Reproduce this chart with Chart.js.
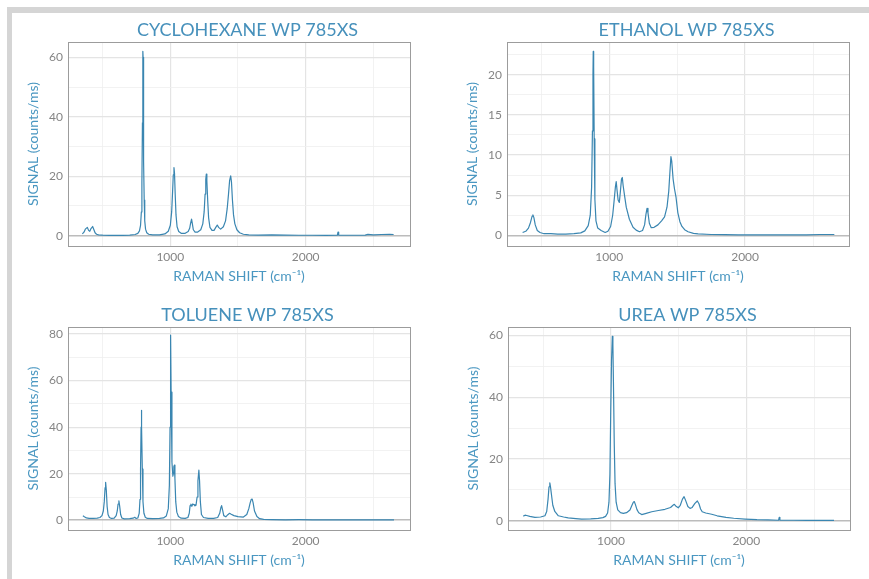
<!DOCTYPE html>
<html>
<head>
<meta charset="utf-8">
<title>Raman spectra WP 785XS</title>
<script src="https://cdn.jsdelivr.net/npm/chart.js@4.4.1/dist/chart.umd.min.js"></script>
<style>
  html, body { margin: 0; padding: 0; background: #fff; overflow: hidden; }
  body { width: 869px; height: 579px; position: relative; }
  .frame-top { position: absolute; left: 7px; top: 7px; width: 862px; height: 6px; background: #d5d5d5; }
  .frame-left { position: absolute; left: 7px; top: 7px; width: 5px; height: 572px; background: #d5d5d5; }
  .panel { position: absolute; width: 467px; }
  #p1 { left: 14px; top: 14px; height: 276px; }
  #p2 { left: 453px; top: 14px; height: 276px; }
  #p3 { left: 14px; top: 299px; height: 275px; }
  #p4 { left: 454px; top: 299px; height: 275px; }
</style>
</head>
<body>
<div class="frame-top"></div>
<div class="frame-left"></div>
<div class="panel" id="p1"><canvas id="cycloChart"></canvas></div>
<div class="panel" id="p2"><canvas id="ethanolChart"></canvas></div>
<div class="panel" id="p3"><canvas id="tolueneChart"></canvas></div>
<div class="panel" id="p4"><canvas id="ureaChart"></canvas></div>

<script>
// Spectra (Raman shift in cm-1, signal in counts/ms)

const cycloX = [350, 362, 372, 387, 396, 405, 414, 426, 434, 444, 455, 470, 500, 550, 600, 650, 700, 740, 760,
  772, 780, 786, 790, 794, 797, 799, 801, 804, 807, 811, 817, 826, 840, 870, 920, 960, 985, 1000, 1010, 1017,
  1022, 1027, 1031, 1036, 1042, 1050, 1062, 1080, 1110, 1132, 1143, 1150, 1157, 1163, 1170, 1183, 1200, 1225,
  1240, 1250, 1257, 1262, 1266, 1270, 1276, 1283, 1293, 1308, 1323, 1336, 1347, 1357, 1372, 1392, 1408, 1420,
  1430, 1438, 1446, 1452, 1459, 1467, 1477, 1492, 1512, 1540, 1580, 1650, 1750, 1850, 1950, 2050, 2150, 2234,
  2239, 2244, 2350, 2440, 2460, 2500, 2560, 2620, 2650];
const cycloY = [0.6, 1.2, 2.2, 2.8, 1.8, 1.5, 2.4, 3.1, 2.2, 1.0, 0.5, 0.3, 0.2, 0.1, 0.15, 0.1, 0.2, 0.4, 0.8,
  1.6, 3.5, 8, 18, 38, 62, 60, 45, 25, 12, 5, 2.2, 1.0, 0.5, 0.3, 0.3, 0.6, 1.5, 3.5, 8, 15,
  20.5, 22.9, 21, 14, 7, 3, 1.4, 0.8, 0.8, 1.4, 2.5, 4.2, 5.6, 4.0, 2.0, 1.2, 1.2, 2.0,
  4, 8, 14, 19, 20.7, 18.5, 12, 6, 2.8, 1.8, 1.8, 2.8, 3.6, 2.8, 2.2, 3.0, 5, 9,
  14, 18.5, 20.1, 18, 12, 7, 4, 2.0, 1.0, 0.5, 0.3, 0.2, 0.3, 0.2, 0.15, 0.15, 0.1, 0.15,
  1.2, 0.2, 0.15, 0.2, 0.45, 0.3, 0.4, 0.45, 0.4];

const ethanolX = [362, 385, 405, 420, 432, 438, 445, 455, 470, 490, 520, 570, 620, 680, 740, 790, 820, 845, 860,
  870, 876, 880, 882, 885, 889, 894, 902, 915, 940, 970, 990, 1010, 1025, 1035, 1045, 1051, 1058, 1065, 1074,
  1082, 1090, 1096, 1102, 1112, 1125, 1148, 1175, 1198, 1222, 1245, 1260, 1270, 1278, 1285, 1295, 1309, 1330,
  1358, 1385, 1407, 1425, 1438, 1447, 1454, 1460, 1470, 1480, 1491, 1505, 1520, 1535, 1555, 1580, 1620, 1654,
  1750, 1850, 1950, 2050, 2150, 2250, 2350, 2450, 2550, 2657];
const ethanolY = [0.35, 0.5, 0.9, 1.6, 2.4, 2.55, 2.2, 1.3, 0.6, 0.35, 0.2, 0.2, 0.15, 0.15, 0.2, 0.3, 0.55, 1.2, 2.5,
  6, 13, 20, 22.9, 21, 12, 4.5, 1.8, 0.9, 0.6, 0.35, 0.5, 1.1, 2.5, 4.2, 6.0, 6.7, 5.5, 4.4, 4.1,
  5.5, 7.0, 7.2, 6.2, 5.0, 3.5, 2.0, 1.0, 0.65, 0.45, 0.6, 1.3, 2.6, 3.35, 2.8, 1.5, 0.95, 1.0,
  1.3, 1.8, 2.3, 3.5, 5.5, 8.0, 9.8, 9.2, 7.0, 5.8, 4.8, 2.8, 1.7, 1.1, 0.7, 0.45, 0.25, 0.17,
  0.1, 0.08, 0.05, 0.05, 0.05, 0.05, 0.05, 0.05, 0.1, 0.1];

const tolueneX = [354, 365, 380, 400, 430, 460, 480, 495, 505, 512, 518, 522, 527, 533, 540, 550, 565, 585, 600,
  608, 614, 620, 626, 633, 642, 660, 700, 725, 737, 748, 760, 770, 776, 780, 784, 786, 789, 793, 798, 805, 815,
  830, 870, 920, 950, 970, 985, 993, 998, 1002, 1006, 1012, 1019, 1022, 1026, 1030, 1034, 1040, 1048, 1060,
  1080, 1110, 1130, 1140, 1146, 1152, 1159, 1166, 1175, 1182, 1190, 1198, 1204, 1211, 1216, 1222, 1230, 1245,
  1280, 1320, 1350, 1365, 1374, 1379, 1386, 1395, 1410, 1425, 1438, 1450, 1470, 1500, 1540, 1565, 1580, 1590,
  1598, 1605, 1612, 1622, 1640, 1660, 1690, 1750, 1850, 1950, 2050, 2150, 2250, 2350, 2450, 2550, 2653];
const tolueneY = [1.9, 1.5, 1.0, 0.8, 0.8, 0.9, 1.2, 2.0, 4, 8, 14, 16.3, 13, 6, 2.5, 1.2, 0.8, 0.9, 2.0,
  4, 7, 8.4, 6, 2.5, 1.0, 0.6, 0.7, 0.9, 1.3, 0.8, 1.0, 3, 9, 22, 40, 47.2, 40, 22, 8, 3, 1.3,
  0.8, 0.7, 0.8, 1.0, 1.8, 5, 15, 40, 79.5, 55, 25, 18.9, 20, 23, 23.7, 18, 8, 3.5, 1.6,
  0.9, 0.8, 1.2, 3.0, 6.3, 6.9, 6.0, 7.0, 6.7, 6.2, 6.5, 10, 17, 21.5, 17, 8, 2.5, 1.2,
  0.8, 0.8, 1.2, 3, 5.5, 6.3, 4.5, 2.0, 1.5, 2.4, 3.0, 2.6, 2.0, 1.6, 1.4, 2.5, 5, 7.5,
  9.0, 9.1, 7.5, 4, 1.6, 0.7, 0.4, 0.3, 0.2, 0.25, 0.2, 0.2, 0.2, 0.15, 0.2, 0.2, 0.15];

const ureaX = [352, 365, 377, 400, 438, 480, 512, 525, 535, 542, 548, 553, 560, 570, 585, 611, 650, 684, 740,
  783, 850, 906, 940, 960, 975, 985, 992, 998, 1004, 1010, 1014, 1018, 1024, 1030, 1038, 1050, 1070, 1091,
  1115, 1140, 1155, 1165, 1172, 1180, 1192, 1205, 1227, 1260, 1301, 1350, 1399, 1440, 1458, 1468, 1478, 1497,
  1512, 1528, 1540, 1552, 1568, 1584, 1600, 1620, 1638, 1650, 1662, 1674, 1700, 1744, 1784, 1850, 1907, 1990,
  2078, 2160, 2238, 2243, 2248, 2350, 2450, 2550, 2648];
const ureaY = [1.5, 1.8, 1.7, 1.4, 1.1, 1.2, 1.6, 3, 7, 11, 12.3, 11, 8.5, 5, 3, 1.6, 1.2, 0.9, 0.7,
  0.55, 0.6, 0.75, 1.0, 1.4, 2.5, 6, 15, 35, 52, 59.7, 57, 45, 25, 12, 6, 3.5, 2.6, 2.4,
  2.6, 3.5, 5, 6, 6.2, 5.3, 3.6, 2.6, 2.0, 2.4, 2.9, 3.3, 3.7, 4.3, 5.0, 5.3, 4.8, 4.2,
  5.0, 7.0, 7.8, 6.5, 4.6, 4.0, 4.3, 5.6, 6.4, 5.5, 3.8, 2.9, 2.5, 2.1, 1.6, 1.1, 0.8, 0.55,
  0.35, 0.25, 0.15, 1.1, 0.2, 0.15, 0.1, 0.1, 0.1];

// Grid lines and the ones that carry a label
const xGrid = [500, 1000, 1500, 2000, 2500];
const xLabels = [1000, 2000];
const cycloGrid = [0, 10, 20, 30, 40, 50, 60];
const cycloLabels = [0, 20, 40, 60];
const ethanolGrid = [0, 2.5, 5, 7.5, 10, 12.5, 15, 17.5, 20, 22.5];
const ethanolLabels = [0, 5, 10, 15, 20];
const tolueneGrid = [0, 10, 20, 30, 40, 50, 60, 70, 80];
const tolueneLabels = [0, 20, 40, 60, 80];
const ureaGrid = [0, 10, 20, 30, 40, 50, 60];
const ureaLabels = [0, 20, 40, 60];

// Colours and fonts
const FONT = 'Lato, "Open Sans", sans-serif';
const LINE_COLOR = '#3a86b1';
const TITLE_COLOR = '#4690bb';
const AXIS_TITLE_COLOR = '#4a97c1';
const TICK_COLOR = '#858585';
const BORDER_COLOR = '#9c9c9c';
const MAJOR_GRID = '#e4e4e4';
const MINOR_GRID = '#efefef';
const ZERO_LINE = '#bcbcbc';

function gridColor(labels) {
  return function (ctx) {
    if (!ctx.tick) return MINOR_GRID;
    if (ctx.tick.value === 0) return ZERO_LINE;
    return labels.includes(ctx.tick.value) ? MAJOR_GRID : MINOR_GRID;
  };
}

function gridWidth(labels) {
  return function (ctx) {
    if (!ctx.tick) return 0.8;
    if (ctx.tick.value === 0) return 1.6;
    return labels.includes(ctx.tick.value) ? 1.2 : 0.8;
  };
}

// Builds one spectrum panel
function buildSpectrum(canvasId, title, xs, ys, xRange, yRange, yGrid, yLabels) {
  const points = xs.map((x, i) => ({ x: x, y: ys[i] }));

  return new Chart(document.getElementById(canvasId), {
    type: 'line',
    data: {
      datasets: [{
        data: points,
        borderColor: LINE_COLOR,
        borderWidth: 1.2,
        borderJoinStyle: 'round',
        pointRadius: 0,
        tension: 0,
        fill: false
      }]
    },
    options: {
      responsive: true,
      maintainAspectRatio: false,
      animation: false,
      layout: { padding: 0 },
      plugins: {
        legend: { display: false },
        tooltip: { enabled: false },
        title: {
          display: true,
          text: title,
          color: TITLE_COLOR,
          font: { family: FONT, size: 18, weight: 'normal' },
          padding: { top: 5, bottom: 1.4 }
        }
      },
      scales: {
        x: {
          type: 'linear',
          min: xRange[0],
          max: xRange[1],
          afterBuildTicks: function (scale) { scale.ticks = xGrid.map(v => ({ value: v })); },
          afterFit: function (scale) { scale.height = 44; },
          ticks: {
            autoSkip: false,
            maxRotation: 0,
            padding: 4,
            color: TICK_COLOR,
            font: { family: FONT, size: 12 },
            callback: function (value) { return xLabels.includes(value) ? String(value) : ''; }
          },
          grid: {
            drawTicks: false,
            color: gridColor(xLabels),
            lineWidth: gridWidth(xLabels)
          },
          border: { color: BORDER_COLOR, width: 1 },
          title: {
            display: true,
            text: 'RAMAN SHIFT (cm⁻¹)',
            color: AXIS_TITLE_COLOR,
            font: { family: FONT, size: 14 },
            padding: { top: 0, bottom: 5.6 }
          }
        },
        y: {
          type: 'linear',
          min: yRange[0],
          max: yRange[1],
          afterBuildTicks: function (scale) { scale.ticks = yGrid.map(v => ({ value: v })); },
          afterFit: function (scale) { scale.width = 54; },
          ticks: {
            autoSkip: false,
            padding: 5,
            color: TICK_COLOR,
            font: { family: FONT, size: 12 },
            callback: function (value) { return yLabels.includes(value) ? String(value) : ''; }
          },
          grid: {
            drawTicks: false,
            color: gridColor(yLabels),
            lineWidth: gridWidth(yLabels)
          },
          border: { color: BORDER_COLOR, width: 1 },
          title: {
            display: true,
            text: 'SIGNAL (counts/ms)',
            color: AXIS_TITLE_COLOR,
            font: { family: FONT, size: 14 },
            padding: { top: 10.6, bottom: 0 }
          }
        },
        // empty axes on the right and top close the panel frame
        yRight: {
          type: 'linear',
          position: 'right',
          ticks: { display: false },
          grid: { display: false, drawTicks: false },
          border: { color: BORDER_COLOR, width: 1 },
          afterFit: function (scale) { scale.width = 71; }
        },
        xTop: {
          type: 'linear',
          position: 'top',
          ticks: { display: false },
          grid: { display: false, drawTicks: false },
          border: { color: BORDER_COLOR, width: 1 },
          afterFit: function (scale) { scale.height = 0; }
        }
      }
    }
  });
}

const cycloChart = buildSpectrum('cycloChart', 'CYCLOHEXANE WP 785XS', cycloX, cycloY, [244, 2771], [-3.46, 65.15], cycloGrid, cycloLabels);
const ethanolChart = buildSpectrum('ethanolChart', 'ETHANOL WP 785XS', ethanolX, ethanolY, [247, 2765], [-1.33, 24.07], ethanolGrid, ethanolLabels);
const tolueneChart = buildSpectrum('tolueneChart', 'TOLUENE WP 785XS', tolueneX, tolueneY, [244, 2771], [-4.17, 83.0], tolueneGrid, tolueneLabels);
const ureaChart = buildSpectrum('ureaChart', 'UREA WP 785XS', ureaX, ureaY, [239, 2766], [-3.0, 62.7], ureaGrid, ureaLabels);
</script>
</body>
</html>
